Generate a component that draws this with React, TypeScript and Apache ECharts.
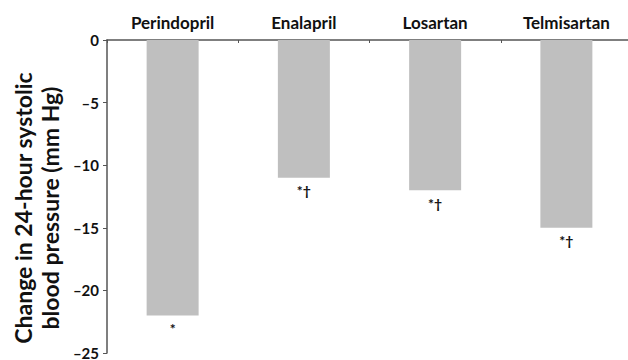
import React, { useEffect, useRef } from "react";
import * as echarts from "echarts";

const categories = ["Perindopril", "Enalapril", "Losartan", "Telmisartan"];
const changes = [-22, -11, -12, -15];
const markers = ["*", "*†", "*†", "*†"];
const yTitle = "Change in 24-hour systolic\nblood pressure (mm Hg)";

export default function App() {
  const ref = useRef<HTMLDivElement>(null);
  useEffect(() => {
    const chart = echarts.init(ref.current!, null, { renderer: "svg" });
    const font = "Lato, 'Open Sans', sans-serif";
    chart.setOption({
      animation: false,
      textStyle: { fontFamily: font },
      grid: { left: 107, top: 40, width: 525, height: 313, outerBoundsMode: "none", containLabel: false },
      xAxis: {
        type: "category",
        data: categories,
        position: "top",
        axisLine: { lineStyle: { color: "#555", width: 1.5 } },
        axisTick: { show: true, inside: true, length: 3, lineStyle: { color: "#555" } },
        axisLabel: { color: "#111", fontWeight: "bold", fontSize: 17, margin: 9, fontFamily: font },
      },
      yAxis: {
        type: "value",
        min: -25,
        max: 0,
        interval: 5,
        axisLine: { show: true, lineStyle: { color: "#555", width: 1.5 } },
        axisTick: { show: true, length: 4, lineStyle: { color: "#555" } },
        splitLine: { show: false },
        axisLabel: {
          color: "#111",
          fontWeight: "bold",
          fontSize: 15,
          margin: 8,
          fontFamily: font,
          formatter: (v: number) => String(v).replace("-", "–"),
        },
      },
      graphic: [
        {
          type: "text",
          x: 36,
          y: 208,
          rotation: Math.PI / 2,
          style: {
            text: yTitle,
            fill: "#111",
            font: `bold 23px ${font}`,
            lineHeight: 27,
            align: "center",
            verticalAlign: "middle",
          },
        },
      ],
      series: [
        {
          type: "bar",
          data: changes.map((v, i) => ({
            value: v,
            label: { show: true, position: "bottom", formatter: markers[i], distance: 6 },
          })),
          barWidth: 52,
          itemStyle: { color: "#bfbfbf" },
          label: { color: "#111", fontWeight: "bold", fontSize: 14, fontFamily: font },
        },
      ],
    });
    return () => chart.dispose();
  }, []);
  return (
    <div
      ref={ref}
      style={{ position: "absolute", left: 0, top: 0, width: 628, height: 360, background: "#fff" }}
    />
  );
}
